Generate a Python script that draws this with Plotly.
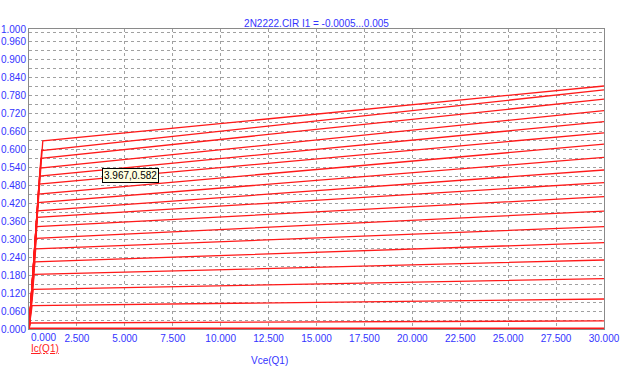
import plotly.graph_objects as go

# Output characteristic family Ic(Q1) vs Vce(Q1)
vce_start = [0.0] * 19
vce_knee = [0.72, 0.66, 0.62, 0.58, 0.55, 0.52, 0.49, 0.47, 0.45, 0.43,
            0.41, 0.38, 0.35, 0.31, 0.27, 0.22, 0.16, 0.08, 0.00]
vce_end = [30.0] * 19
ic_knee = [0.627, 0.595, 0.569, 0.536, 0.510, 0.483, 0.450, 0.421, 0.394, 0.372,
           0.341, 0.302, 0.267, 0.224, 0.182, 0.132, 0.078, 0.020, 0.000]
ic_end = [0.810, 0.797, 0.766, 0.728, 0.691, 0.654, 0.616, 0.572, 0.530, 0.488,
          0.441, 0.393, 0.341, 0.288, 0.230, 0.168, 0.100, 0.027, 0.000]

x_ticks = [0.0, 2.5, 5.0, 7.5, 10.0, 12.5, 15.0, 17.5, 20.0, 22.5, 25.0, 27.5, 30.0]
x_tick_text = ["", "2.500", "5.000", "7.500", "10.000", "12.500", "15.000",
               "17.500", "20.000", "22.500", "25.000", "27.500", "30.000"]
y_ticks = [0.0, 0.06, 0.12, 0.18, 0.24, 0.30, 0.36, 0.42, 0.48, 0.54, 0.60,
           0.66, 0.72, 0.78, 0.84, 0.90, 0.96, 1.0]
y_tick_text = ["0.000", "0.060", "0.120", "0.180", "0.240", "0.300", "0.360",
               "0.420", "0.480", "0.540", "0.600", "0.660", "0.720", "0.780",
               "0.840", "0.900", "0.960", "1.000"]

title_text = "2N2222.CIR I1 = -0.0005...0.005"
cursor_text = "3.967,0.582"

BLUE = "#3434ff"
RED = "#ff1a1a"
GRID = "#a0a0a0"
FONT = "Liberation Sans, Arial, sans-serif"

# plot area in pixels: x 29..604, y 29..329
PL, PR, PT, PB = 29, 604, 29, 329


def px(xp):
    return (xp - PL) / (PR - PL)


def py(yp):
    return (PB - yp) / (PB - PT)


fig = go.Figure()
for i in range(len(ic_knee)):
    fig.add_trace(go.Scatter(
        x=[vce_start[i], vce_knee[i], vce_end[i]],
        y=[0.0, ic_knee[i], ic_end[i]],
        mode="lines",
        line=dict(color=RED, width=3 if ic_end[i] == 0 else 1.3),
        showlegend=False, hoverinfo="skip",
    ))

axis_common = dict(
    showline=True, mirror=True, linecolor="#8a8a8a", linewidth=1,
    showgrid=True, gridcolor=GRID, gridwidth=1, griddash="3px,3px",
    zeroline=False, ticks="", automargin=False,
    tickfont=dict(family=FONT, size=10, color=BLUE),
)

fig.update_layout(
    width=623, height=374, autosize=False,
    margin=dict(l=PL, r=623 - PR, t=PT, b=374 - PB, pad=0),
    paper_bgcolor="white", plot_bgcolor="white",
    title=dict(text=title_text, x=(PL + PR) / 2 / 623, xanchor="center",
               y=1 - 23 / 374, yanchor="middle", automargin=False,
               font=dict(family=FONT, size=10, color=BLUE)),
    xaxis=dict(range=[0, 30], tickvals=x_ticks, ticktext=x_tick_text, **axis_common),
    yaxis=dict(range=[0, 1], tickvals=y_ticks, ticktext=y_tick_text,
               minor=dict(dtick=0.03, tick0=0, showgrid=True, gridcolor=GRID,
                          griddash="3px,3px", gridwidth=1),
               **axis_common),
    annotations=[
        dict(text="0.000", x=0, y=0, xref="x", yref="y", xanchor="left",
             yanchor="top", yshift=-1, showarrow=False,
             font=dict(family=FONT, size=10, color=BLUE)),
        dict(text="<u>Ic(Q1)</u>", x=px(29), y=py(348), xref="paper",
             yref="paper", xanchor="left", yanchor="middle", showarrow=False,
             font=dict(family=FONT, size=10, color="#ff2020")),
        dict(text="Vce(Q1)", x=px(269), y=py(360), xref="paper",
             yref="paper", xanchor="center", yanchor="middle", showarrow=False,
             font=dict(family=FONT, size=10, color=BLUE)),
        dict(text=cursor_text, x=px(130.5), y=py(175), xref="paper",
             yref="paper", xanchor="center", yanchor="middle", showarrow=False,
             bgcolor="#ffffe1", bordercolor="#000000", borderwidth=1, borderpad=1,
             font=dict(family=FONT, size=10, color="#000000")),
    ],
)

fig.write_html("out.html", config={"displayModeBar": False},
               post_script="document.body.style.margin='0';document.body.style.padding='0';")
